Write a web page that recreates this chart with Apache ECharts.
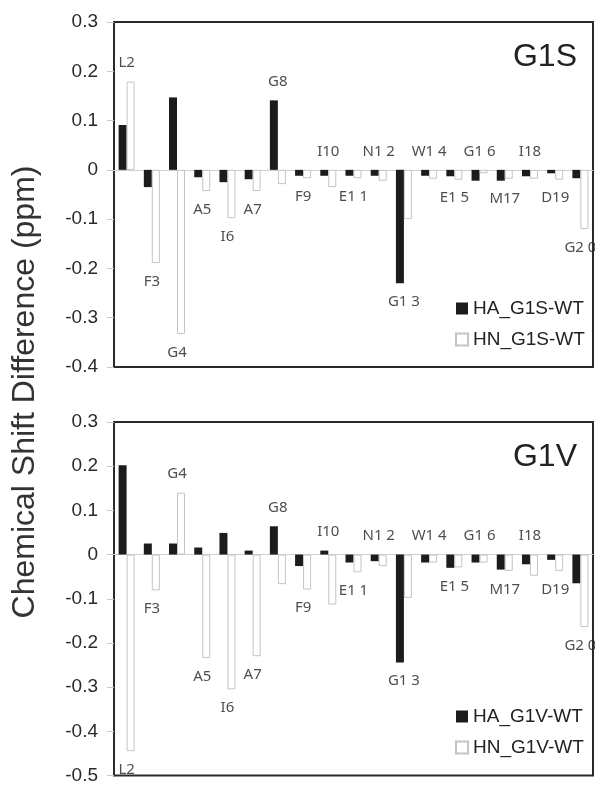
<!DOCTYPE html>
<html>
<head>
<meta charset="utf-8">
<script src="https://cdn.jsdelivr.net/npm/echarts@6/dist/echarts.min.js"></script>
<style>
html,body{margin:0;padding:0;background:#fff;}
#chart{width:595px;height:785px;}
</style>
</head>
<body>
<div id="chart"></div>
<script>
// residue names as printed in the figure
var residues = ['L2','F3','G4','A5','I6','A7','G8','F9','I10','E1 1','N1 2','G1 3','W1 4','E1 5','G1 6','M17','I18','D19','G2 0'];

// G1S - WT (ppm)
var haG1S = [0.091,-0.035,0.147,-0.015,-0.025,-0.019,0.141,-0.012,-0.012,-0.012,-0.012,-0.230,-0.012,-0.013,-0.022,-0.022,-0.013,-0.007,-0.017];
var hnG1S = [0.179,-0.189,-0.333,-0.043,-0.098,-0.043,-0.029,-0.017,-0.035,-0.017,-0.022,-0.100,-0.018,-0.020,-0.007,-0.018,-0.018,-0.020,-0.120];
// G1V - WT (ppm)
var haG1V = [0.202,0.025,0.025,0.016,0.049,0.009,0.064,-0.026,0.009,-0.018,-0.015,-0.244,-0.018,-0.030,-0.018,-0.034,-0.022,-0.012,-0.065];
var hnG1V = [-0.445,-0.081,0.140,-0.234,-0.305,-0.230,-0.067,-0.079,-0.113,-0.040,-0.026,-0.098,-0.018,-0.029,-0.018,-0.037,-0.048,-0.037,-0.164];

// which side of the bars the residue name sits on (1 above, -1 below)
var sideG1S = [1,-1,-1,-1,-1,-1,1,-1,1,-1,1,-1,1,-1,1,-1,1,-1,-1];
var sideG1V = [-1,-1,1,-1,-1,-1,1,-1,1,-1,1,-1,1,-1,1,-1,1,-1,-1];

var yMinG1S = -0.4, yMaxG1S = 0.3;
var yMinG1V = -0.5, yMaxG1V = 0.3;

var chart = echarts.init(document.getElementById('chart'));
var axisFont = '"Liberation Sans", Arial, sans-serif';

function tickFmt(v){
	if (Math.abs(v) < 1e-9) return '0';
	return v.toFixed(1);
}

// anchor points for residue names, at the tip of the longest bar
function nameMarks(ha, hn, side){
	var out = [];
	for (var i = 0; i < residues.length; i++){
		var y = side[i] > 0 ? Math.max(0, ha[i], hn[i]) : Math.min(0, ha[i], hn[i]);
		out.push({value:[i, y], label:{position: side[i] > 0 ? 'top' : 'bottom'}});
	}
	return out;
}

function xAxisOf(gi){
	return {
		type:'category', gridIndex:gi, data:residues,
		axisLine:{onZero:true, lineStyle:{color:'#cfcfcf', width:1}},
		axisTick:{show:false}, axisLabel:{show:false}, splitLine:{show:false}
	};
}
function yAxisOf(gi, mn, mx){
	return {
		type:'value', gridIndex:gi, min:mn, max:mx, interval:0.1,
		axisLine:{show:false},
		axisTick:{show:true, inside:false, length:7, lineStyle:{color:'#c8c8c8'}},
		axisLabel:{formatter:tickFmt, margin:16, color:'#2a2a2a', fontSize:19, fontFamily:axisFont},
		splitLine:{show:false}
	};
}
function barPair(gi, nameA, nameN, ha, hn){
	return [{
		name:nameA, type:'bar', xAxisIndex:gi, yAxisIndex:gi, data:ha,
		barWidth:8, barGap:'0%', itemStyle:{color:'#1c1c1c'}
	},{
		name:nameN, type:'bar', xAxisIndex:gi, yAxisIndex:gi, data:hn,
		barWidth:8, barGap:'0%', itemStyle:{color:'#ffffff', borderColor:'#c4c4c4', borderWidth:1}
	}];
}
function nameSeries(gi, ha, hn, side){
	return {
		type:'scatter', xAxisIndex:gi, yAxisIndex:gi, symbolSize:0, silent:true, z:5,
		data:nameMarks(ha, hn, side),
		label:{show:true, distance:11, color:'#222', fontSize:15, fontFamily:'"Noto Sans", sans-serif',
			formatter:function(p){ return residues[p.dataIndex]; }}
	};
}
function legendOf(top, names){
	return {
		data:names, orient:'vertical', left:450, top:top, itemWidth:12, itemHeight:12, itemGap:12,
		icon:'rect', selectedMode:false,
		textStyle:{color:'#222', fontSize:19, fontFamily:axisFont}
	};
}

var option = {
	animation:false,
	backgroundColor:'#fff',
	grid:[
		{left:114, top:22, width:479, height:345, show:true, borderColor:'#2a2a2a', borderWidth:2, backgroundColor:'transparent'},
		{left:114, top:422, width:479, height:358, show:true, borderColor:'#2a2a2a', borderWidth:2, backgroundColor:'transparent'}
	],
	xAxis:[xAxisOf(0), xAxisOf(1)],
	yAxis:[yAxisOf(0, yMinG1S, yMaxG1S), yAxisOf(1, yMinG1V, yMaxG1V)],
	legend:[
		legendOf(294, ['HA_G1S-WT','HN_G1S-WT']),
		legendOf(702, ['HA_G1V-WT','HN_G1V-WT'])
	],
	graphic:[
		{type:'text', x:577, y:57, style:{text:'G1S', font:'32px "Liberation Sans", Arial, sans-serif', fill:'#222', align:'right', verticalAlign:'middle'}},
		{type:'text', x:577, y:457, style:{text:'G1V', font:'32px "Liberation Sans", Arial, sans-serif', fill:'#222', align:'right', verticalAlign:'middle'}},
		{type:'text', x:25, y:392, rotation:Math.PI/2, style:{text:'Chemical Shift Difference (ppm)', font:'32px "Liberation Sans", Arial, sans-serif', fill:'#333', align:'center', verticalAlign:'middle'}}
	],
	series:[].concat(
		barPair(0, 'HA_G1S-WT', 'HN_G1S-WT', haG1S, hnG1S),
		[nameSeries(0, haG1S, hnG1S, sideG1S)],
		barPair(1, 'HA_G1V-WT', 'HN_G1V-WT', haG1V, hnG1V),
		[nameSeries(1, haG1V, hnG1V, sideG1V)]
	)
};
chart.setOption(option);
</script>
</body>
</html>
